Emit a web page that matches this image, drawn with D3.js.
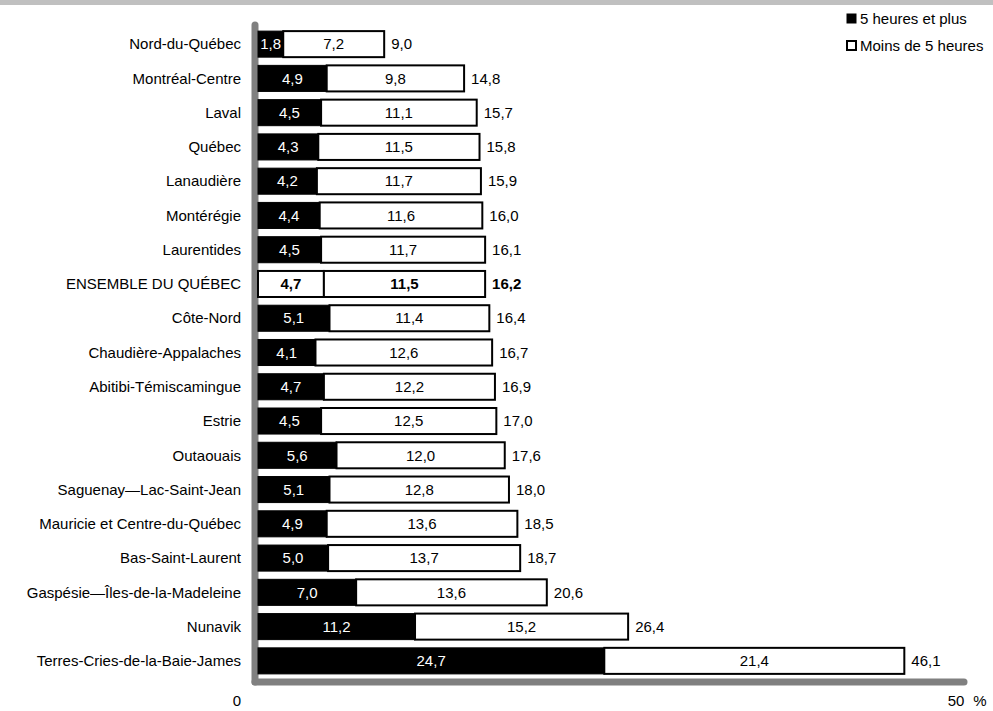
<!DOCTYPE html>
<html><head><meta charset="utf-8">
<script src="https://cdn.jsdelivr.net/npm/d3@7"></script>
<style>
html,body{margin:0;padding:0;background:#fff;}
svg{display:block;font-family:"Liberation Sans",Arial,sans-serif;}
</style></head>
<body>
<svg id="c" width="993" height="711"></svg>
<script>
const categories = ["Nord-du-Québec","Montréal-Centre","Laval","Québec","Lanaudière","Montérégie","Laurentides","ENSEMBLE DU QUÉBEC","Côte-Nord","Chaudière-Appalaches","Abitibi-Témiscamingue","Estrie","Outaouais","Saguenay—Lac-Saint-Jean","Mauricie et Centre-du-Québec","Bas-Saint-Laurent","Gaspésie—Îles-de-la-Madeleine","Nunavik","Terres-Cries-de-la-Baie-James"];
const fivePlus = [1.8,4.9,4.5,4.3,4.2,4.4,4.5,4.7,5.1,4.1,4.7,4.5,5.6,5.1,4.9,5.0,7.0,11.2,24.7];
const lessFive = [7.2,9.8,11.1,11.5,11.7,11.6,11.7,11.5,11.4,12.6,12.2,12.5,12.0,12.8,13.6,13.7,13.6,15.2,21.4];
const totals = [9.0,14.8,15.7,15.8,15.9,16.0,16.1,16.2,16.4,16.7,16.9,17.0,17.6,18.0,18.5,18.7,20.6,26.4,46.1];
const seriesNames = ["5 heures et plus","Moins de 5 heures"];
const axisTicks = [0,50];
const totalCategory = "ENSEMBLE DU QUÉBEC";

const svg = d3.select("#c");
const fmt = v => d3.format(".1f")(v).replace(".", ",");
const FS = 15;

// title band (cut off at top)
svg.append("rect").attr("x",0).attr("y",0).attr("width",993).attr("height",5).attr("fill","#c0c0c0");

const x = d3.scaleLinear().domain([0,50]).range([258,959]);
const y = d3.scaleBand().domain(categories).range([27,678]).paddingInner(0.24).paddingOuter(0.12);

// axes (grey thick lines)
const axCol = "#808080";
svg.append("line").attr("x1",255).attr("x2",255).attr("y1",25).attr("y2",682)
  .attr("stroke",axCol).attr("stroke-width",7).attr("stroke-linecap","round");
svg.append("line").attr("x1",255).attr("x2",x(50)+5).attr("y1",682).attr("y2",682)
  .attr("stroke",axCol).attr("stroke-width",7).attr("stroke-linecap","round");

const g = svg.append("g");
categories.forEach((c,i)=>{
  const isTot = c===totalCategory;
  const y0 = y(c), h = y.bandwidth(), cy = y0+h/2;
  const xa = x(0), xb = x(fivePlus[i]), xc = x(fivePlus[i]+lessFive[i]);
  g.append("rect").attr("x",xa).attr("y",y0).attr("width",xb-xa).attr("height",h)
    .attr("fill",isTot?"#fff":"#000").attr("stroke","#000").attr("stroke-width",isTot?2:1);
  g.append("rect").attr("x",xb).attr("y",y0).attr("width",xc-xb).attr("height",h)
    .attr("fill","#fff").attr("stroke","#000").attr("stroke-width",2);
  const fw = isTot?"bold":"normal";
  g.append("text").attr("x",(xa+xb)/2).attr("y",cy).attr("dy","0.35em").attr("text-anchor","middle")
    .attr("font-size",FS).attr("font-weight",fw).attr("fill",isTot?"#000":"#fff").text(fmt(fivePlus[i]));
  g.append("text").attr("x",(xb+xc)/2).attr("y",cy).attr("dy","0.35em").attr("text-anchor","middle")
    .attr("font-size",FS).attr("font-weight",fw).attr("fill","#000").text(fmt(lessFive[i]));
  g.append("text").attr("x",xc+7).attr("y",cy).attr("dy","0.35em").attr("text-anchor","start")
    .attr("font-size",FS).attr("font-weight",fw).attr("fill","#000").text(fmt(totals[i]));
  g.append("text").attr("x",241).attr("y",cy).attr("dy","0.35em").attr("text-anchor","end")
    .attr("font-size",FS).attr("fill","#000").text(c);
});

// x tick labels
svg.append("text").attr("x",x(axisTicks[0])-21).attr("y",706).attr("text-anchor","middle").attr("font-size",FS).text(String(axisTicks[0]));
svg.append("text").attr("x",x(axisTicks[1])-3).attr("y",706).attr("text-anchor","middle").attr("font-size",FS).text(String(axisTicks[1]));
svg.append("text").attr("x",x(axisTicks[1])+21).attr("y",706).attr("text-anchor","middle").attr("font-size",FS).text("%");

// legend
const lg = svg.append("g");
seriesNames.forEach((s,i)=>{
  const ly = 19 + i*27;
  lg.append("rect").attr("x",847).attr("y",ly-5).attr("width",9).attr("height",9)
    .attr("fill",i===0?"#000":"#fff").attr("stroke","#000").attr("stroke-width",i===0?1:2);
  lg.append("text").attr("x",860).attr("y",ly).attr("dy","0.35em").attr("font-size",FS).text(s);
});
</script>
</body></html>
